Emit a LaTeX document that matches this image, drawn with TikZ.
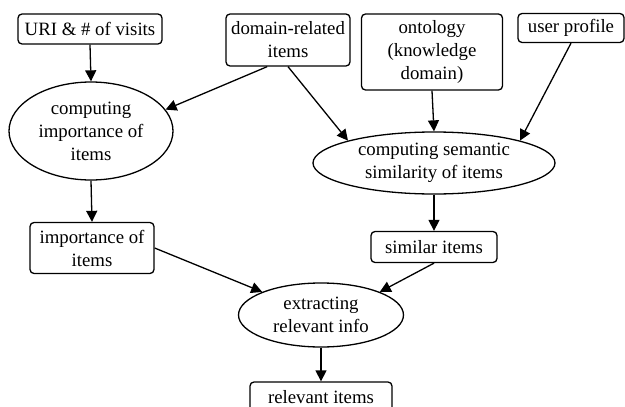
\documentclass[tikz,border=0pt]{standalone}
\usepackage{fontspec}
\setmainfont{Liberation Serif}
\usetikzlibrary{arrows.meta,shapes.geometric}

\begin{document}
\begin{tikzpicture}[x=1pt, y=-1pt, line width=1.3pt,
    every node/.style={font=\fontsize{18.8}{23}\selectfont, align=center, inner sep=0pt},
    box/.style={draw, rounded corners=4pt},
    oval/.style={draw, ellipse},
    arr/.style={-{Triangle[length=11pt,width=11pt]}}]
  \useasboundingbox (0,0) rectangle (625,407);

  % inputs
  \node[box, minimum width=144pt, minimum height=30pt] (uri) at (90,29) {URI \& \# of visits};
  \node[box, minimum width=124pt, minimum height=52pt] (domain) at (288,40) {domain-related\\items};
  \node[box, minimum width=141pt, minimum height=76pt] (onto) at (432,52) {ontology\\(knowledge\\domain)};
  \node[box, minimum width=106pt, minimum height=29pt] (user) at (571,28) {user profile};

  % processing
  \node[oval, minimum width=164pt, minimum height=98pt] (imp) at (91,131) {computing\\importance of\\items};
  \node[oval, minimum width=242pt, minimum height=62pt] (sem) at (434,163) {computing semantic\\similarity of items};
  \node[box, minimum width=124pt, minimum height=51pt] (impitems) at (92,248) {importance of\\items};
  \node[box, minimum width=126pt, minimum height=31pt] (sim) at (434,247) {similar items};
  \node[oval, minimum width=165pt, minimum height=64pt] (extr) at (321,315) {extracting\\relevant info};
  \node[box, minimum width=142pt, minimum height=30pt] (rel) at (321,397) {relevant items};

  \draw[arr] (uri.south) -- (imp.north);
  \draw[arr] (domain.232) -- (imp.16);
  \draw[arr] (domain.south) -- (sem.north west);
  \draw[arr] (onto.south) -- (sem.north);
  \draw[arr] (user.south) -- (sem.north east);
  \draw[arr] (imp.south) -- (impitems.north);
  \draw[arr] (sem.south) -- (sim.north);
  \draw[arr] (impitems.east) -- (extr.north west);
  \draw[arr] (sim.south) -- (extr.north east);
  \draw[arr] (extr.south) -- (rel.north);
\end{tikzpicture}
\end{document}
